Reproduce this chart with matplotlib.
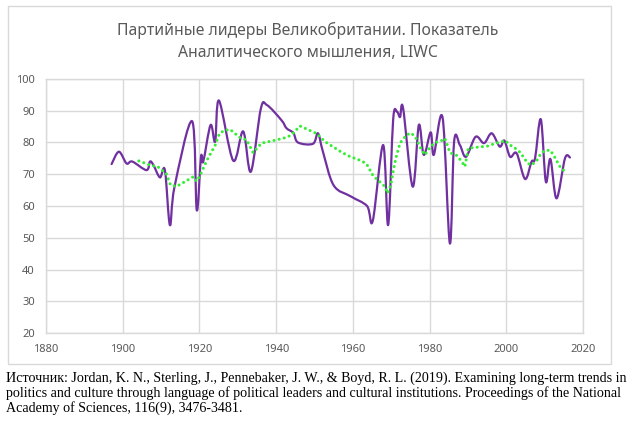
import numpy as np
import matplotlib
matplotlib.use("Agg")
import matplotlib.pyplot as plt
from matplotlib.path import Path
from matplotlib.patches import PathPatch, Rectangle

# analytic thinking score, party leaders
years = [1897.1, 1899.0, 1901.0, 1902.5, 1906.2, 1907.1, 1908.0, 1909.7, 1911.0, 1912.3,
         1913.5, 1918.1, 1919.3, 1920.4, 1921.0, 1922.9, 1924.1, 1925.1, 1928.8, 1931.4,
         1933.4, 1936.0, 1937.6, 1941.4, 1942.7, 1944.5, 1945.7, 1949.6, 1950.9, 1952.2,
         1955.0, 1959.5, 1963.7, 1965.2, 1967.9, 1969.2, 1970.5, 1971.5, 1972.3, 1973.1,
         1975.6, 1977.2, 1978.5, 1980.3, 1981.1, 1983.4, 1985.3, 1986.4, 1987.9, 1989.5,
         1992.0, 1994.2, 1996.2, 1998.3, 1999.5, 2001.0, 2002.7, 2004.9, 2006.6, 2007.5,
         2009.0, 2010.3, 2011.5, 2013.1, 2015.3, 2016.6]
values = [73.2, 77.1, 73.4, 74.0, 71.3, 74.0, 72.9, 69.0, 71.3, 54.0,
          66.0, 86.7, 58.7, 75.5, 74.0, 85.5, 80.3, 93.2, 74.3, 83.5,
          70.8, 90.6, 91.8, 87.0, 84.5, 83.0, 80.0, 79.6, 82.9, 77.1,
          66.5, 63.0, 60.0, 55.4, 79.2, 54.0, 87.1, 89.7, 88.0, 90.8,
          66.1, 85.5, 76.1, 83.2, 76.1, 87.8, 48.2, 80.3, 79.2, 75.5,
          81.8, 79.8, 82.9, 78.7, 80.6, 75.5, 76.6, 68.5, 74.0, 75.0,
          87.3, 67.7, 74.8, 62.4, 75.0, 75.3]

# moving average trend line (also)
trend_years = [1904.2, 1907.5, 1909.0, 1911.3, 1912.5, 1914.1, 1918.4, 1919.3, 1920.3, 1921.9,
               1924.1, 1925.2, 1926.5, 1928.0, 1930.6, 1932.3, 1934.0, 1936.2, 1939.3, 1942.7,
               1944.0, 1946.2, 1950.6, 1952.7, 1957.1, 1959.2, 1962.3, 1963.6, 1965.3, 1968.4,
               1969.0, 1969.9, 1970.5, 1971.2, 1972.3, 1974.0, 1975.2, 1976.4, 1977.9, 1978.8,
               1980.1, 1981.5, 1983.0, 1984.0, 1985.3, 1987.1, 1988.4, 1989.2, 1990.1, 1992.3,
               1995.3, 1996.6, 1999.7, 2001.0, 2002.3, 2003.7, 2004.7, 2005.6, 2006.6, 2007.9,
               2008.8, 2009.9, 2011.4, 2012.3, 2013.1, 2014.0, 2014.9, 2016.2]
trend_values = [74.2, 72.7, 72.5, 70.3, 66.5, 66.2, 69.2, 67.8, 70.0, 74.3,
                79.1, 82.8, 83.8, 84.1, 81.5, 80.8, 76.8, 79.8, 80.6, 81.6,
                82.4, 85.2, 82.8, 80.3, 76.9, 75.6, 74.2, 73.2, 69.5, 66.1,
                64.0, 66.6, 70.8, 75.0, 79.8, 82.4, 83.0, 81.5, 77.6, 76.1,
                78.5, 80.0, 80.5, 81.3, 76.8, 75.9, 74.0, 72.4, 78.2, 78.5,
                78.9, 79.5, 80.6, 79.2, 78.2, 76.8, 75.0, 73.4, 72.9, 74.2,
                76.1, 77.4, 77.6, 76.1, 74.3, 72.4, 71.3, 71.5]

title = "Партийные лидеры Великобритании. Показатель\nАналитического мышления, LIWC"
source = ("Источник: Jordan, K. N., Sterling, J., Pennebaker, J. W., & Boyd, R. L. (2019). Examining long-term trends in\n"
          "politics and culture through language of political leaders and cultural institutions. Proceedings of the National\n"
          "Academy of Sciences, 116(9), 3476-3481.")

GRAY = "#595959"
GRID = "#D9D9D9"

plt.rcParams["font.family"] = ["Noto Sans", "DejaVu Sans"]

fig = plt.figure(figsize=(6.37, 4.21), dpi=100)
W, H = 637, 421

# chart frame like the excel chart area
fig.patches.append(Rectangle((8 / W, 1 - 364 / H), 603 / W, 358 / H, transform=fig.transFigure,
                             fill=False, edgecolor=GRID, linewidth=1.0))

ax = fig.add_axes([46 / W, 1 - 333 / H, 537 / W, 254 / H])
ax.set_xlim(1880, 2020)
ax.set_ylim(20, 100)
ax.set_xticks(range(1880, 2021, 20))
ax.set_yticks(range(20, 101, 10))
ax.grid(True, color=GRID, linewidth=1.0)
ax.set_axisbelow(True)
for s in ax.spines.values():
    s.set_color(GRID)
    s.set_linewidth(1.0)
ax.tick_params(length=0, colors=GRAY, labelsize=8, pad=8)

# smoothed line (bezier through the points, like excel "smoothed line")
pts = np.column_stack([years, values])
ext = np.vstack([pts[0], pts, pts[-1]])
verts = [pts[0]]
codes = [Path.MOVETO]
for i in range(len(pts) - 1):
    p0, p1, p2, p3 = ext[i], ext[i + 1], ext[i + 2], ext[i + 3]
    verts += [p1 + (p2 - p0) / 6, p2 - (p3 - p1) / 6, p2]
    codes += [Path.CURVE4] * 3
ax.add_patch(PathPatch(Path(verts, codes), fill=False, edgecolor="#7030A0", linewidth=1.6,
                       capstyle="round", joinstyle="round"))

ax.plot(trend_years, trend_values, color="#33EE33", linewidth=2.2,
        linestyle=(0, (0.01, 1.7)), dash_capstyle="round")

fig.text(308 / W, 1 - 41 / H, title, ha="center", va="center", color=GRAY, fontsize=11.3,
         linespacing=1.5)

fig.text(6 / W, 1 - 393 / H, source, ha="left", va="center", color="black",
         family="Liberation Serif", fontsize=10.1, linespacing=1.12)

fig.savefig("out.png", dpi=100)
